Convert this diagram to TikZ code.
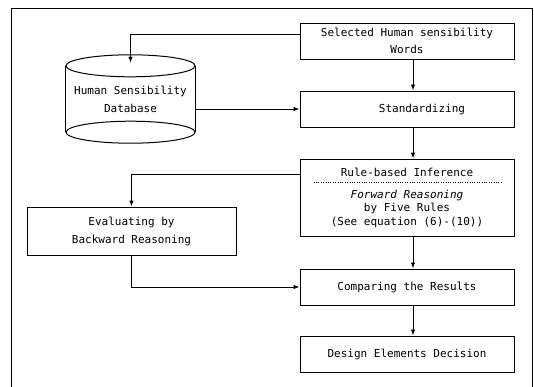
\documentclass[tikz,border=0pt]{standalone}
\usepackage{fontspec}
\setmonofont{DejaVu Sans Mono}
\usetikzlibrary{arrows.meta}

\begin{document}
\begin{tikzpicture}[
	x=1pt, y=-1pt,
	every node/.style={font=\ttfamily\fontsize{11}{13.5}\selectfont, align=center, inner sep=0pt},
	stepbox/.style={shape=rectangle, draw=black, line width=1pt, minimum width=214pt, minimum height=36pt},
	evalbox/.style={shape=rectangle, draw=black, line width=1pt, minimum width=209pt, minimum height=48pt},
	dbbox/.style={shape=rectangle, minimum width=129pt, minimum height=66pt},
	arr/.style={line width=1pt, -{Latex[length=6pt,width=4.5pt]}},
	link/.style={line width=1pt},
]
\useasboundingbox (0,0) rectangle (534,386);
\draw[link] (11,8) rectangle (532,392);

% process steps on the right
\node[stepbox] (sel) at (407,41) {Selected Human sensibility\\[3.5pt]Words};
\node[stepbox] (std) at (407,109) {\hspace*{30pt}Standardizing};
\node[stepbox, minimum height=77pt] (rule) at (407,197.5) {Rule-based Inference\\[8.5pt]\textit{Forward Reasoning}\\by Five Rules\\(See equation (6)-(10))};
\node[stepbox] (comp) at (407,287) {Comparing the Results};
\node[stepbox] (dec) at (407,354) {Design Elements Decision};
\draw[dash pattern=on 0.8pt off 1.6pt, line width=0.7pt] ([xshift=14pt, yshift=-24pt]rule.north west) -- ([xshift=-13pt, yshift=-24pt]rule.north east);

% left side
\node[evalbox] (eval) at (131.5,231) {\rule{0pt}{9pt}Evaluating by\\[5pt]Backward Reasoning};
\node[dbbox] (db) at (130.5,99) {\rule{0pt}{9pt}Human Sensibility\\[5pt]Database};
\draw[link] (db.north west) -- (db.south west);
\draw[link] (db.north east) -- (db.south east);
\draw[link] (db.north) ellipse (64.5pt and 11pt);
\draw[link] (db.south) ellipse (64.5pt and 11pt);

% arrows
\draw[arr] ([yshift=7pt]sel.west) -| ([yshift=3pt]db.north);
\draw[arr] (db.east |- std.west) -- (std.west);
\draw[arr] ([xshift=6pt]sel.south) -- ([xshift=6pt]std.north);
\draw[arr] ([xshift=6pt]std.south) -- ([xshift=6pt]rule.north);
\draw[arr] ([xshift=6pt]rule.south) -- ([xshift=6pt]comp.north);
\draw[arr] ([xshift=6pt]comp.south) -- ([xshift=6pt]dec.north);
\draw[arr] ([yshift=-16pt]rule.north west) -| (eval.north);
\draw[arr] (eval.south) |- (comp.west);
\end{tikzpicture}
\end{document}
